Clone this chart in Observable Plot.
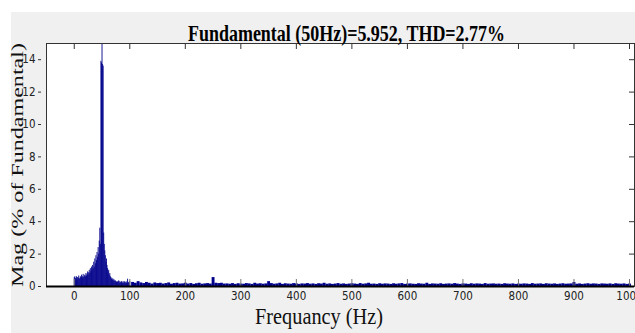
<!DOCTYPE html>
<html><head><meta charset="utf-8">
<script src="https://cdn.jsdelivr.net/npm/d3@7"></script>
<script src="https://cdn.jsdelivr.net/npm/@observablehq/plot@0.6"></script>
<style>
html,body{margin:0;padding:0;background:#fff;}
#wrap{position:relative;width:635px;height:333px;overflow:hidden;}
#bg{position:absolute;left:11px;top:12px;right:0;bottom:0;background:#f0f0f0;}
#chart{position:absolute;left:0;top:0;}
</style></head><body>
<div id="wrap"><div id="bg"></div><div id="chart"></div></div>
<script>
const titleText = "Fundamental (50Hz)=5.952, THD=2.77%";
const xLabel = "Frequancy (Hz)";
const yLabel = "Mag (% of Fundamental)";
const xTicks = [0, 100, 200, 300, 400, 500, 600, 700, 800, 900, 1000];
const yTicks = [0, 2, 4, 6, 8, 10, 12, 14];

// 0..100 Hz, one bin per Hz (magnitude, % of fundamental)
const nearStartHz = 0, nearStepHz = 1;
const nearMag = [
  0.55,0.6,0.5,0.45,0.6,0.4,0.55,0.5,0.65,0.45,
  0.5,0.6,0.55,0.7,0.5,0.6,0.75,0.55,0.65,0.7,
  0.6,0.8,0.65,0.75,0.9,0.7,0.85,1.0,0.8,1.1,
  0.9,1.2,1.0,1.3,1.1,1.5,1.2,1.7,1.4,1.9,
  1.6,2.1,1.8,2.4,2.0,2.8,3.6,2.6,13.9,13.8,
  100,13.7,13.6,3.3,2.6,2.2,1.9,1.5,1.7,1.3,
  1.1,0.9,1.0,0.7,0.8,0.6,0.55,0.45,0.5,0.4,
  0.45,0.35,0.4,0.3,0.35,0.3,0.25,0.3,0.25,0.3,
  0.35,0.2,0.3,0.25,0.2,0.3,0.25,0.2,0.3,0.2,
  0.25,0.3,0.2,0.25,0.2,0.3,0.45,0.2,0.25,0.2,
  0.3
];
// 105..1000 Hz, one bin per 5 Hz
const farStartHz = 105, farStepHz = 5;
const farMag = [
  0.25,0.2,0.3,0.22,0.18,0.25,0.2,0.15,0.22,0.18,
  0.2,0.15,0.18,0.22,0.14,0.18,0.2,0.15,0.16,0.2,
  0.15,0.18,0.13,0.17,0.2,0.14,0.16,0.18,0.15,0.55,
  0.2,0.18,0.2,0.15,0.16,0.14,0.18,0.13,0.17,0.15,
  0.14,0.18,0.16,0.13,0.2,0.15,0.17,0.14,0.16,0.3,
  0.18,0.14,0.16,0.2,0.13,0.17,0.15,0.14,0.18,0.16,
  0.13,0.16,0.15,0.18,0.14,0.16,0.13,0.17,0.15,0.2,
  0.14,0.16,0.13,0.15,0.18,0.14,0.16,0.13,0.15,0.17,
  0.15,0.13,0.18,0.14,0.16,0.2,0.14,0.15,0.13,0.17,
  0.14,0.16,0.15,0.13,0.17,0.14,0.16,0.18,0.13,0.15,
  0.16,0.14,0.13,0.17,0.15,0.14,0.2,0.13,0.16,0.15,
  0.14,0.17,0.13,0.15,0.16,0.14,0.18,0.15,0.13,0.16,
  0.15,0.13,0.17,0.14,0.16,0.15,0.13,0.18,0.14,0.15,
  0.16,0.14,0.15,0.13,0.17,0.15,0.14,0.16,0.13,0.15,
  0.14,0.16,0.15,0.13,0.18,0.14,0.15,0.16,0.13,0.17,
  0.15,0.14,0.16,0.13,0.15,0.17,0.14,0.15,0.16,0.25,
  0.14,0.16,0.13,0.15,0.17,0.14,0.16,0.15,0.13,0.16,
  0.15,0.14,0.16,0.13,0.17,0.15,0.14,0.16,0.13,0.15
];

const near = nearMag.map((m, i) => ({f: nearStartHz + i * nearStepHz, m}));
const far = farMag.map((m, i) => ({f: farStartHz + i * farStepHz, m}));

const W = 635, H = 333, mL = 46, mR = 1, mT = 43, mB = 47;
const pw = W - mL - mR, ph = H - mT - mB;
const barColor = "#00008b";
const tickFont = "'Liberation Sans Narrow','DejaVu Sans Condensed','Liberation Sans',sans-serif";

const chart = Plot.plot({
  width: W, height: H,
  marginLeft: mL, marginRight: mR, marginTop: mT, marginBottom: mB,
  style: {background: "transparent", fontFamily: tickFont, fontSize: "11.5px", color: "#222"},
  x: {domain: [-50, 1009], ticks: xTicks, tickFormat: d => String(d), tickSize: 0, tickPadding: 5, label: null},
  y: {domain: [0, 15], ticks: yTicks, tickSize: 0, tickPadding: 11, label: null},
  marks: [
    Plot.frame({fill: "white"}),
    Plot.ruleX(near, {x: "f", y1: 0, y2: "m", stroke: barColor, strokeWidth: 0.9, clip: true}),
    Plot.ruleX(far, {x: "f", y1: 0, y2: "m", stroke: barColor, strokeWidth: 2.9, clip: true}),
    Plot.ruleX(xTicks, {x: d => d, insetBottom: ph - 6, stroke: "#333"}),
    Plot.ruleX(xTicks, {x: d => d, insetTop: ph - 7, stroke: "#777"}),
    Plot.ruleY(yTicks, {y: d => d, insetLeft: pw - 5, stroke: "#333"}),
    Plot.ruleY(yTicks, {y: d => d, insetRight: pw - 3, dx: -8, stroke: "#333"}),
    Plot.frame({stroke: "#333"}),
    Plot.ruleY([0], {stroke: "#000", strokeWidth: 2})
  ]
});
document.getElementById("chart").appendChild(chart);

const svg = d3.select(chart);
const serif = "'Liberation Serif','DejaVu Serif',serif";
svg.append("text").text(titleText)
  .attr("x", 188).attr("y", 40.5).attr("text-anchor", "start")
  .attr("textLength", 317).attr("lengthAdjust", "spacingAndGlyphs")
  .attr("font-family", serif)
  .attr("font-weight", "bold").attr("font-size", 23).attr("fill", "#000");
svg.append("text").text(xLabel)
  .attr("x", 255).attr("y", 324).attr("text-anchor", "start")
  .attr("textLength", 128).attr("lengthAdjust", "spacingAndGlyphs")
  .attr("font-family", serif)
  .attr("font-size", 23).attr("fill", "#111");
svg.append("text").text(yLabel)
  .attr("transform", "translate(23,287) rotate(-90)").attr("text-anchor", "start")
  .attr("textLength", 244).attr("lengthAdjust", "spacingAndGlyphs")
  .attr("font-family", serif)
  .attr("font-size", 17).attr("fill", "#111");
</script>
</body></html>
